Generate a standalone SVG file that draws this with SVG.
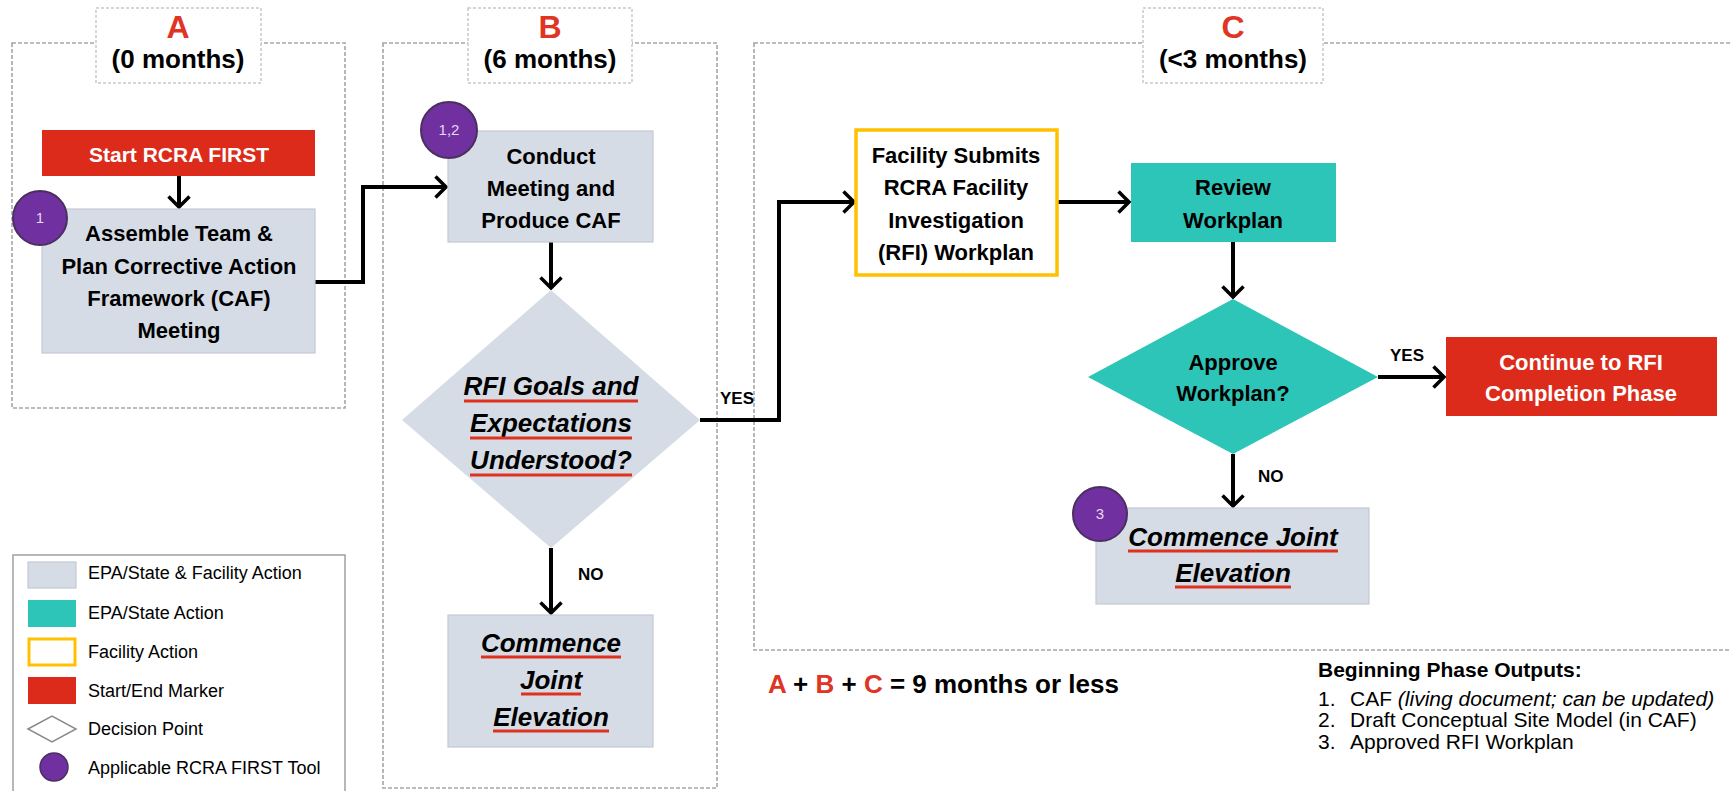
<svg xmlns="http://www.w3.org/2000/svg" width="1731" height="791" viewBox="0 0 1731 791">
<style>
text{font-family:"Liberation Sans",Arial,sans-serif;fill:#000}
.panel{fill:none;stroke:#A6A6A6;stroke-width:1.6;stroke-dasharray:4 2}
.hdr{fill:#fff;stroke:#C9C9C9;stroke-width:1.5;stroke-dasharray:3 2}
.letter{font-size:32px;font-weight:bold;fill:#E03424;text-anchor:middle}
.dur{font-size:26px;font-weight:bold;text-anchor:middle}
.both{fill:#D6DCE5;stroke:#C3C9D2;stroke-width:1.2}
.epa{fill:#2CC5B8}
.fac{fill:#fff;stroke:#FFC000;stroke-width:3.5}
.red{fill:#DC2B1B}
.t{font-size:22px;font-weight:bold;text-anchor:middle}
.w{fill:#fff}
.q{font-size:26px;font-weight:bold;font-style:italic;text-anchor:middle}
.ul{stroke:#E0301E;stroke-width:3}
.badge{fill:#7030A0;stroke:#4A3060;stroke-width:2}
.bt{font-size:15px;fill:#E6D9F2;text-anchor:middle}
.conn{fill:none;stroke:#000;stroke-width:4;marker-end:url(#arr)}
.lbl{font-size:17px;font-weight:bold}
.leg{font-size:18px}
.out{font-size:21px}
</style>
<defs>
<marker id="arr" viewBox="0 0 14 24" refX="12" refY="12" markerWidth="14" markerHeight="24" markerUnits="userSpaceOnUse" orient="auto">
<path d="M1.5,1.5 L12,12 L1.5,22.5" fill="none" stroke="#000" stroke-width="3.5"/>
</marker>
</defs>
<rect width="1731" height="791" fill="#fff"/>

<g id="panel-A">
<rect class="panel" x="12" y="43" width="333" height="365"/>
<rect class="hdr" x="96" y="8" width="165" height="75"/>
<text class="letter" x="178" y="38">A</text>
<text class="dur" x="178" y="68">(0 months)</text>
</g>
<g id="panel-B">
<rect class="panel" x="383" y="43" width="334" height="745"/>
<rect class="hdr" x="468" y="8" width="164" height="75"/>
<text class="letter" x="550" y="38">B</text>
<text class="dur" x="550" y="68">(6 months)</text>
</g>
<g id="panel-C">
<rect class="panel" x="754" y="43" width="1000" height="607"/>
<rect class="hdr" x="1143" y="8" width="180" height="75"/>
<text class="letter" x="1233" y="38">C</text>
<text class="dur" x="1233" y="68">(&lt;3 months)</text>
</g>

<g id="connectors">
<path class="conn" d="M179,176 V207"/>
<path class="conn" d="M315,282 H363 V187 H446"/>
<path class="conn" d="M551,242 V288"/>
<path class="conn" d="M551,548 V613"/>
<path class="conn" d="M700,420 H779 V202 H854"/>
<path class="conn" d="M1057,202 H1129"/>
<path class="conn" d="M1233,242 V297"/>
<path class="conn" d="M1378,377 H1444"/>
<path class="conn" d="M1233,454 V506"/>
<text class="lbl" x="720" y="404">YES</text>
<text class="lbl" x="578" y="580">NO</text>
<text class="lbl" x="1390" y="361">YES</text>
<text class="lbl" x="1258" y="482">NO</text>
</g>

<g id="start">
<rect class="red" x="42" y="130" width="273" height="46"/>
<text class="t w" x="179" y="162" style="font-size:21px">Start RCRA FIRST</text>
</g>

<g id="assemble">
<rect class="both" x="42" y="209" width="273" height="144"/>
<text class="t" x="179" y="241">Assemble Team &amp;</text>
<text class="t" x="179" y="274">Plan Corrective Action</text>
<text class="t" x="179" y="306">Framework (CAF)</text>
<text class="t" x="179" y="338">Meeting</text>
<circle class="badge" cx="40" cy="218" r="27"/>
<text class="bt" x="40" y="223">1</text>
</g>

<g id="conduct">
<rect class="both" x="448" y="131" width="205" height="111"/>
<text class="t" x="551" y="164">Conduct</text>
<text class="t" x="551" y="196">Meeting and</text>
<text class="t" x="551" y="228">Produce CAF</text>
<circle class="badge" cx="449" cy="130" r="28"/>
<text class="bt" x="449" y="135">1,2</text>
</g>

<g id="decision-rfi">
<polygon points="551,290 700,420 551,548 402,420" fill="#D6DCE5"/>
<text class="q" x="551" y="395">RFI Goals and</text>
<line class="ul" x1="464" y1="401" x2="638" y2="401"/>
<text class="q" x="551" y="432">Expectations</text>
<line class="ul" x1="470" y1="438" x2="632" y2="438"/>
<text class="q" x="551" y="469">Understood?</text>
<line class="ul" x1="470" y1="475" x2="632" y2="475"/>
</g>

<g id="commence-b">
<rect class="both" x="448" y="615" width="205" height="132"/>
<text class="q" x="551" y="652">Commence</text>
<line class="ul" x1="481" y1="657" x2="621" y2="657"/>
<text class="q" x="551" y="689">Joint</text>
<line class="ul" x1="521" y1="694" x2="581" y2="694"/>
<text class="q" x="551" y="726">Elevation</text>
<line class="ul" x1="493" y1="731" x2="609" y2="731"/>
</g>

<g id="facility">
<rect class="fac" x="856" y="130" width="201" height="145"/>
<text class="t" x="956" y="163">Facility Submits</text>
<text class="t" x="956" y="195">RCRA Facility</text>
<text class="t" x="956" y="228">Investigation</text>
<text class="t" x="956" y="260">(RFI) Workplan</text>
</g>

<g id="review">
<rect class="epa" x="1131" y="163" width="205" height="79"/>
<text class="t" x="1233" y="195">Review</text>
<text class="t" x="1233" y="228">Workplan</text>
</g>

<g id="approve">
<polygon class="epa" points="1233,299 1378,377 1233,454 1088,377"/>
<text class="t" x="1233" y="370">Approve</text>
<text class="t" x="1233" y="401">Workplan?</text>
</g>

<g id="continue">
<rect class="red" x="1446" y="337" width="271" height="79"/>
<text class="t w" x="1581" y="370">Continue to RFI</text>
<text class="t w" x="1581" y="401">Completion Phase</text>
</g>

<g id="commence-c">
<rect class="both" x="1096" y="508" width="273" height="96"/>
<text class="q" x="1233" y="546">Commence Joint</text>
<line class="ul" x1="1128" y1="551" x2="1338" y2="551"/>
<text class="q" x="1233" y="582">Elevation</text>
<line class="ul" x1="1175" y1="587" x2="1291" y2="587"/>
<circle class="badge" cx="1100" cy="514" r="27"/>
<text class="bt" x="1100" y="519">3</text>
</g>

<g id="legend">
<rect x="13" y="555" width="332" height="250" fill="#fff" stroke="#A0A0A0" stroke-width="1.5"/>
<rect class="both" x="28" y="562" width="48" height="26"/>
<text class="leg" x="88" y="579">EPA/State &amp; Facility Action</text>
<rect class="epa" x="28" y="600" width="48" height="27"/>
<text class="leg" x="88" y="619">EPA/State Action</text>
<rect x="29" y="639" width="46" height="26" fill="#fff" stroke="#FFC000" stroke-width="3"/>
<text class="leg" x="88" y="658">Facility Action</text>
<rect class="red" x="28" y="677" width="48" height="27"/>
<text class="leg" x="88" y="697">Start/End Marker</text>
<polygon points="28,729 52,716 76,729 52,742" fill="#fff" stroke="#8A8A8A" stroke-width="1.5"/>
<text class="leg" x="88" y="735">Decision Point</text>
<circle cx="54" cy="767" r="14" fill="#7030A0" stroke="#4A3060" stroke-width="1.5"/>
<text class="leg" x="88" y="774">Applicable RCRA FIRST Tool</text>
</g>

<g id="total">
<text x="768" y="693" style="font-size:26px;font-weight:bold"><tspan fill="#E03424">A</tspan> + <tspan fill="#E03424">B</tspan> + <tspan fill="#E03424">C</tspan> = 9 months or less</text>
</g>

<g id="outputs">
<text class="out" x="1318" y="677" font-weight="bold">Beginning Phase Outputs:</text>
<text class="out" x="1318" y="706">1.</text>
<text class="out" x="1350" y="706">CAF <tspan font-style="italic">(living document; can be updated)</tspan></text>
<text class="out" x="1318" y="727">2.</text>
<text class="out" x="1350" y="727">Draft Conceptual Site Model (in CAF)</text>
<text class="out" x="1318" y="749">3.</text>
<text class="out" x="1350" y="749">Approved RFI Workplan</text>
</g>
</svg>
